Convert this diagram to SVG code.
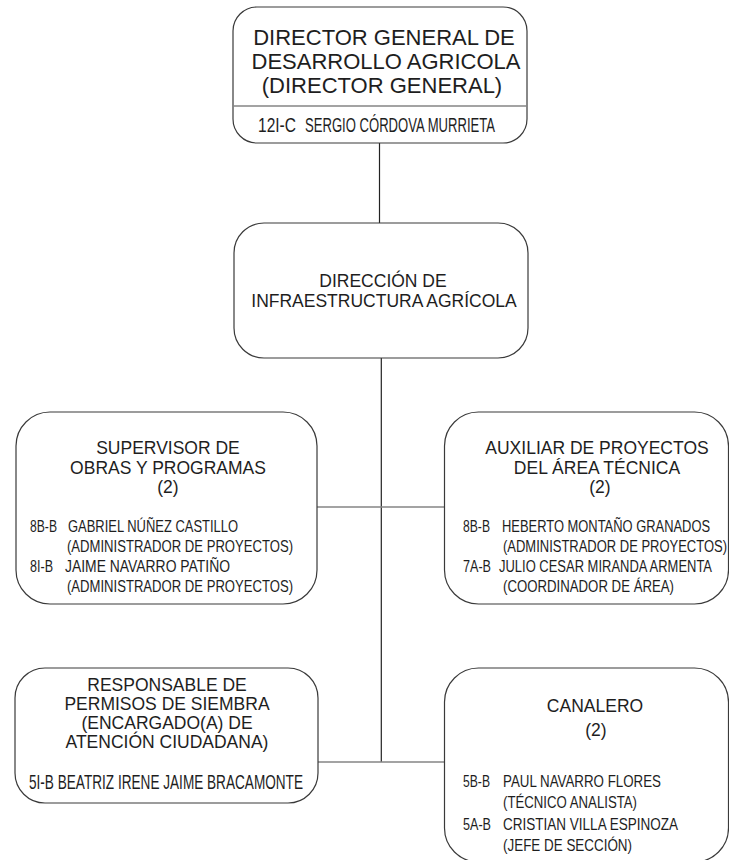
<svg xmlns="http://www.w3.org/2000/svg" width="729" height="860" viewBox="0 0 729 860">
<style>
.box{fill:#fff;stroke:#3a3a3a;stroke-width:1.2}
.div{stroke:#858585;stroke-width:1.6;fill:none}
.vl{stroke:#222;stroke-width:1.2;fill:none}
text{font-family:"Liberation Sans",Arial,sans-serif;fill:#1e1e1e}
.t{text-anchor:middle;font-size:17.5px}
.tb{text-anchor:middle;font-size:22px}
.n{font-family:"Liberation Sans Narrow","Arial Narrow","Liberation Sans",sans-serif;font-size:17px}
.nb{font-family:"Liberation Sans Narrow","Arial Narrow","Liberation Sans",sans-serif;font-size:21px}
</style>
<rect width="729" height="860" fill="#fff"/>
<g id="connectors">
<line class="vl" x1="379.5" y1="143" x2="379.5" y2="224"/>
<line class="vl" x1="381.3" y1="358" x2="381.3" y2="762"/>
<line class="div" x1="16" y1="507" x2="729" y2="507"/>
<line class="div" x1="15" y1="762" x2="729" y2="762"/>
</g>
<g id="director-general">
<rect class="box" x="233" y="7" width="294" height="136" rx="24"/>
<line class="div" x1="233" y1="106" x2="527" y2="106"/>
<text class="tb" x="384" y="45">DIRECTOR GENERAL DE</text>
<text class="tb" x="386" y="69">DESARROLLO AGRICOLA</text>
<text class="tb" x="382" y="93">(DIRECTOR GENERAL)</text>
<text class="nb" x="258" y="132" textLength="38" lengthAdjust="spacingAndGlyphs">12I-C</text>
<text class="nb" x="305" y="132" textLength="190" lengthAdjust="spacingAndGlyphs">SERGIO CÓRDOVA MURRIETA</text>
</g>
<g id="direccion-infraestructura">
<rect class="box" x="234" y="223" width="294" height="135" rx="30"/>
<text class="t" x="383" y="287">DIRECCIÓN DE</text>
<text class="t" x="384" y="307">INFRAESTRUCTURA AGRÍCOLA</text>
</g>
<g id="supervisor">
<rect class="box" x="16" y="412" width="301" height="192" rx="34"/>
<text class="t" x="168" y="454">SUPERVISOR DE</text>
<text class="t" x="168" y="474">OBRAS Y PROGRAMAS</text>
<text class="t" x="168" y="493">(2)</text>
<text class="n" x="30" y="532" textLength="27" lengthAdjust="spacingAndGlyphs">8B-B</text>
<text class="n" x="68" y="532" textLength="170" lengthAdjust="spacingAndGlyphs">GABRIEL NÚÑEZ CASTILLO</text>
<text class="n" x="67" y="552" textLength="226" lengthAdjust="spacingAndGlyphs">(ADMINISTRADOR DE PROYECTOS)</text>
<text class="n" x="30" y="572" textLength="23" lengthAdjust="spacingAndGlyphs">8I-B</text>
<text class="n" x="65" y="572" textLength="165" lengthAdjust="spacingAndGlyphs">JAIME NAVARRO PATIÑO</text>
<text class="n" x="67" y="592" textLength="226" lengthAdjust="spacingAndGlyphs">(ADMINISTRADOR DE PROYECTOS)</text>
</g>
<g id="auxiliar">
<rect class="box" x="444.5" y="412" width="284" height="192" rx="34"/>
<text class="t" x="597" y="454">AUXILIAR DE PROYECTOS</text>
<text class="t" x="597" y="474">DEL ÁREA TÉCNICA</text>
<text class="t" x="600" y="493">(2)</text>
<text class="n" x="463" y="532" textLength="27" lengthAdjust="spacingAndGlyphs">8B-B</text>
<text class="n" transform="translate(502,532) scale(0.754,1)" x="0" y="0" textLength="276" lengthAdjust="spacingAndGlyphs">HEBERTO MONTAÑO GRANADOS</text>
<text class="n" transform="translate(503,552) scale(0.763,1)" x="0" y="0" textLength="293.6" lengthAdjust="spacingAndGlyphs">(ADMINISTRADOR DE PROYECTOS)</text>
<text class="n" x="463" y="572" textLength="28" lengthAdjust="spacingAndGlyphs">7A-B</text>
<text class="n" transform="translate(499,572) scale(0.754,1)" x="0" y="0" textLength="282.5" lengthAdjust="spacingAndGlyphs">JULIO CESAR MIRANDA ARMENTA</text>
<text class="n" x="503" y="592" textLength="171" lengthAdjust="spacingAndGlyphs">(COORDINADOR DE ÁREA)</text>
</g>
<g id="responsable">
<rect class="box" x="15" y="668" width="303" height="135" rx="30"/>
<text class="t" x="167" y="691">RESPONSABLE DE</text>
<text class="t" x="167" y="710">PERMISOS DE SIEMBRA</text>
<text class="t" x="167" y="729">(ENCARGADO(A) DE</text>
<text class="t" x="167" y="748">ATENCIÓN CIUDADANA)</text>
<text class="nb" x="29" y="789" textLength="274" lengthAdjust="spacingAndGlyphs">5I-B BEATRIZ IRENE JAIME BRACAMONTE</text>
</g>
<g id="canalero">
<rect class="box" x="444.5" y="668" width="284" height="194" rx="34"/>
<text class="t" x="595" y="712">CANALERO</text>
<text class="t" x="596" y="736">(2)</text>
<text class="n" x="463" y="787" textLength="27" lengthAdjust="spacingAndGlyphs">5B-B</text>
<text class="n" x="503" y="787" textLength="158" lengthAdjust="spacingAndGlyphs">PAUL NAVARRO FLORES</text>
<text class="n" x="503" y="808" textLength="134" lengthAdjust="spacingAndGlyphs">(TÉCNICO ANALISTA)</text>
<text class="n" x="463" y="830" textLength="28" lengthAdjust="spacingAndGlyphs">5A-B</text>
<text class="n" x="503" y="830" textLength="175" lengthAdjust="spacingAndGlyphs">CRISTIAN VILLA ESPINOZA</text>
<text class="n" x="503" y="851" textLength="129" lengthAdjust="spacingAndGlyphs">(JEFE DE SECCIÓN)</text>
</g>
</svg>
